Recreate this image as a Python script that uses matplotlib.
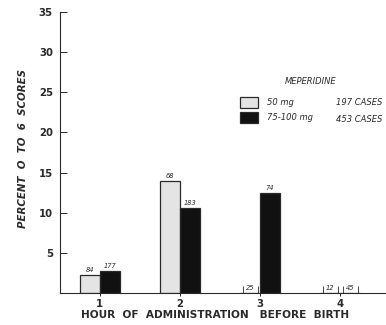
import matplotlib
matplotlib.use("Agg")
import matplotlib.pyplot as plt
from matplotlib.patches import Patch
import numpy as np

hours = [1, 2, 3, 4]
hour_labels = ["1", "2", "3", "4"]
pct_50mg = [2.3, 14.0, 0.0, 0.0]
pct_75_100mg = [2.7, 10.6, 12.5, 0.0]
n_50mg = ["84", "68", "25", "12"]
n_75_100mg = ["177", "183", "74", "45"]
dose_labels = ["50 mg", "75-100 mg"]
case_totals = ["197 CASES", "453 CASES"]
y_ticks = [5, 10, 15, 20, 25, 30, 35]

ink = "#2a2a2a"
light = "#e4e4e4"
dark = "#111111"
plt.rcParams["font.family"] = ["DejaVu Sans"]

W, H = 386, 325
fig = plt.figure(figsize=(W / 100, H / 100), dpi=100)
ax = fig.add_axes([0.155, 0.0985, 0.842, 0.865])

x = np.array(hours, dtype=float)
w = 0.25
ax.bar(x - w / 2, pct_50mg, width=w, color=light, edgecolor=ink, linewidth=0.9)
ax.bar(x + w / 2, pct_75_100mg, width=w, color=dark, edgecolor=ink, linewidth=0.9)

# case counts above each bar; empty bars get short edge marks
for xs, vals, labels in [(x - w / 2, pct_50mg, n_50mg), (x + w / 2, pct_75_100mg, n_75_100mg)]:
    for xi, v, lab in zip(xs, vals, labels):
        ax.text(xi, v + 0.25, lab, ha="center", va="bottom", fontsize=4.8,
                style="italic", color=ink)
        if v == 0:
            ax.vlines([xi - w / 2 + 0.04, xi + w / 2 - 0.02], 0, 0.9,
                      color=ink, linewidth=0.6)

ax.set_xlim(0.5, 4.56)
ax.set_ylim(0, 35)
ax.set_yticks(y_ticks)
ax.set_yticklabels([str(t) for t in y_ticks], fontsize=7.3, fontweight="bold", color=ink)
ax.set_xticks(hours)
ax.set_xticklabels(hour_labels, fontsize=7.3, fontweight="bold", color=ink)
ax.tick_params(axis="y", direction="in", length=5, width=0.7, color=ink, pad=5)
ax.tick_params(axis="x", direction="out", length=2.5, width=0.7, color=ink, pad=1.5)

for s in ["top", "right"]:
    ax.spines[s].set_visible(False)
for s in ["left", "bottom"]:
    ax.spines[s].set_color(ink)
    ax.spines[s].set_linewidth(0.8)

fig.text(215 / W, 1 - 315 / H, "HOUR  OF  ADMINISTRATION   BEFORE  BIRTH",
         ha="center", va="center", fontsize=7.6, fontweight="bold", color=ink)
fig.text(23 / W, 1 - 148 / H, "PERCENT  O  TO  6  SCORES", ha="center",
         va="center", rotation=90, fontsize=7.4, fontweight="bold",
         style="italic", color=ink)

# legend: swatches with dose labels, title and case totals beside them
handles = [Patch(facecolor=light, edgecolor=ink, linewidth=0.9),
           Patch(facecolor=dark, edgecolor=ink, linewidth=0.9)]
leg = fig.legend(handles, dose_labels, loc="upper left",
                 bbox_to_anchor=(240 / W, 1 - 97 / H), frameon=False,
                 prop={"size": 6, "style": "italic"},
                 handlelength=2.15, handleheight=1.6, handletextpad=1.1,
                 labelspacing=0.5, borderaxespad=0, borderpad=0)
for t in leg.get_texts():
    t.set_color(ink)
fig.text(311 / W, 1 - 82 / H, "MEPERIDINE", ha="center", va="center",
         fontsize=6, style="italic", color=ink)
for i, total in enumerate(case_totals):
    fig.text(382 / W, 1 - (102.5 + 17 * i) / H, total, ha="right",
             va="center", fontsize=6, style="italic", color=ink)

fig.savefig("out.png", dpi=100)
